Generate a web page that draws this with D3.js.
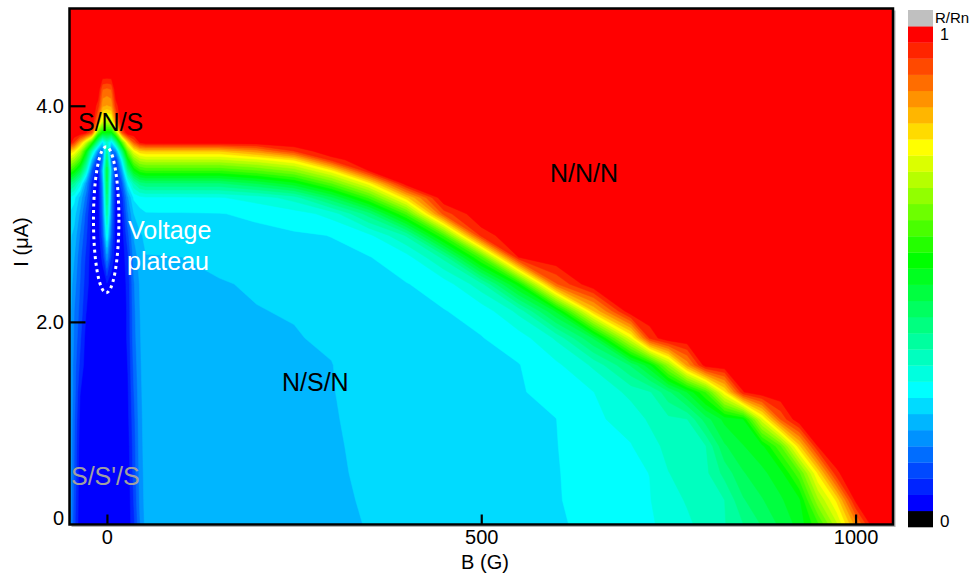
<!DOCTYPE html>
<html lang="en">
<head>
  <meta charset="UTF-8">
  <title>R/Rn map, B vs I</title>
  <script src="https://d3js.org/d3.v7.min.js"></script>
  <style>
    body { margin: 0; padding: 0; background: #fff; overflow: hidden; }
    text { font-family: "Liberation Sans", Arial, sans-serif; }
  </style>
</head>
<body>
  <svg id="chart"></svg>
  <script>
    // measurement grid: field B (G) for each column, current I (uA) for each row
    const fieldB = [-50, -44, -36, -28, -20, -12, -6, 0, 6, 12, 20, 28, 36, 44,
      52, 75, 100, 150, 200, 250, 300, 350, 400, 450, 500, 550, 600, 650, 700, 725, 750,
      775, 800, 825, 850, 875, 900, 925, 950, 975, 1000, 1025, 1050];
    const currentI = [0.125, 0.35, 0.6, 0.85, 1.1, 1.35, 1.6, 1.85, 2.1, 2.35, 2.6, 2.8, 3.0,
      3.15, 3.28, 3.4, 3.5, 3.58, 3.66, 3.75, 3.85, 4.0, 4.15, 4.3, 4.5, 4.9];

    // R/Rn, one array per B column, low I first
    const rnColumns = [
      [0.16, 0.165, 0.17, 0.17, 0.172, 0.175, 0.178, 0.18, 0.183, 0.19, 0.2, 0.208, 0.23, 0.262, 0.394, 0.565, 0.694, 0.8, 0.99, 1, 1, 1, 1, 1, 1, 1],
      [0.08, 0.09, 0.1, 0.105, 0.11, 0.12, 0.12, 0.13, 0.135, 0.15, 0.17, 0.19, 0.215, 0.245, 0.36, 0.53, 0.66, 0.77, 0.93, 1, 1, 1, 1, 1, 1, 1],
      [0.01, 0.01, 0.012, 0.018, 0.025, 0.035, 0.06, 0.075, 0.09, 0.1, 0.11, 0.13, 0.16, 0.19, 0.28, 0.45, 0.58, 0.68, 0.82, 1, 1, 1, 1, 1, 1, 1],
      [0.01, 0.01, 0.01, 0.01, 0.01, 0.01, 0.015, 0.02, 0.035, 0.05, 0.06, 0.075, 0.09, 0.12, 0.16, 0.3, 0.42, 0.52, 0.7, 0.97, 1, 1, 1, 1, 1, 1],
      [0.01, 0.01, 0.01, 0.01, 0.01, 0.01, 0.01, 0.01, 0.01, 0.01, 0.01, 0.015, 0.02, 0.03, 0.05, 0.1, 0.2, 0.32, 0.55, 0.9, 1, 1, 1, 1, 1, 1],
      [0.01, 0.01, 0.01, 0.01, 0.01, 0.01, 0.01, 0.01, 0.01, 0.01, 0.01, 0.01, 0.01, 0.01, 0.01, 0.02, 0.05, 0.15, 0.35, 0.6, 0.85, 0.95, 1, 1, 1, 1],
      [0.01, 0.01, 0.01, 0.01, 0.01, 0.01, 0.01, 0.01, 0.01, 0.015, 0.04, 0.08, 0.11, 0.12, 0.14, 0.18, 0.12, 0.1, 0.22, 0.5, 0.7, 0.84, 0.9, 1, 1, 1],
      [0.01, 0.01, 0.01, 0.01, 0.01, 0.01, 0.01, 0.01, 0.01, 0.03, 0.15, 0.26, 0.34, 0.39, 0.43, 0.45, 0.4, 0.35, 0.3, 0.5, 0.68, 0.83, 0.89, 1, 1, 1],
      [0.01, 0.01, 0.01, 0.01, 0.01, 0.01, 0.01, 0.01, 0.01, 0.012, 0.06, 0.1, 0.13, 0.14, 0.15, 0.18, 0.1, 0.1, 0.22, 0.5, 0.7, 0.84, 0.9, 1, 1, 1],
      [0.01, 0.01, 0.01, 0.01, 0.01, 0.01, 0.01, 0.01, 0.01, 0.01, 0.01, 0.01, 0.01, 0.02, 0.03, 0.04, 0.06, 0.15, 0.35, 0.62, 0.86, 0.95, 1, 1, 1, 1],
      [0.01, 0.01, 0.01, 0.01, 0.01, 0.01, 0.01, 0.01, 0.01, 0.01, 0.01, 0.015, 0.03, 0.05, 0.09, 0.16, 0.25, 0.38, 0.58, 0.9, 1, 1, 1, 1, 1, 1],
      [0.01, 0.01, 0.012, 0.018, 0.025, 0.03, 0.035, 0.04, 0.04, 0.045, 0.06, 0.09, 0.13, 0.16, 0.24, 0.38, 0.5, 0.62, 0.78, 1, 1, 1, 1, 1, 1, 1],
      [0.06, 0.07, 0.08, 0.085, 0.09, 0.1, 0.11, 0.12, 0.125, 0.13, 0.15, 0.17, 0.2, 0.24, 0.33, 0.5, 0.63, 0.74, 0.9, 1, 1, 1, 1, 1, 1, 1],
      [0.13, 0.14, 0.145, 0.15, 0.153, 0.156, 0.16, 0.163, 0.166, 0.17, 0.18, 0.195, 0.22, 0.255, 0.38, 0.55, 0.68, 0.79, 0.97, 1, 1, 1, 1, 1, 1, 1],
      [0.18, 0.182, 0.184, 0.185, 0.187, 0.189, 0.191, 0.193, 0.195, 0.197, 0.199, 0.207, 0.23, 0.262, 0.394, 0.565, 0.694, 0.8, 0.99, 1, 1, 1, 1, 1, 1, 1],
      [0.18, 0.182, 0.184, 0.186, 0.188, 0.19, 0.192, 0.194, 0.196, 0.198, 0.199, 0.211, 0.231, 0.262, 0.394, 0.565, 0.694, 0.8, 0.99, 1, 1, 1, 1, 1, 1, 1],
      [0.18, 0.182, 0.184, 0.186, 0.188, 0.19, 0.192, 0.194, 0.196, 0.198, 0.2, 0.215, 0.231, 0.262, 0.394, 0.565, 0.694, 0.8, 0.99, 1, 1, 1, 1, 1, 1, 1],
      [0.18, 0.182, 0.183, 0.185, 0.187, 0.189, 0.191, 0.193, 0.195, 0.198, 0.207, 0.22, 0.232, 0.264, 0.394, 0.565, 0.694, 0.8, 0.99, 1, 1, 1, 1, 1, 1, 1],
      [0.18, 0.182, 0.184, 0.187, 0.189, 0.192, 0.194, 0.196, 0.199, 0.203, 0.215, 0.225, 0.239, 0.281, 0.433, 0.596, 0.723, 0.85, 0.99, 1, 1, 1, 1, 1, 1, 1],
      [0.18, 0.182, 0.185, 0.188, 0.191, 0.193, 0.196, 0.198, 0.202, 0.211, 0.221, 0.229, 0.251, 0.316, 0.486, 0.643, 0.772, 0.932, 1, 1, 1, 1, 1, 1, 1, 1],
      [0.19, 0.191, 0.193, 0.194, 0.196, 0.198, 0.199, 0.205, 0.212, 0.22, 0.227, 0.234, 0.278, 0.426, 0.597, 0.755, 0.948, 1, 1, 1, 1, 1, 1, 1, 1, 1],
      [0.202, 0.205, 0.208, 0.211, 0.214, 0.217, 0.22, 0.223, 0.226, 0.229, 0.232, 0.258, 0.384, 0.574, 0.747, 0.97, 1, 1, 1, 1, 1, 1, 1, 1, 1, 1],
      [0.208, 0.21, 0.213, 0.216, 0.218, 0.221, 0.224, 0.226, 0.229, 0.232, 0.253, 0.337, 0.576, 0.789, 0.99, 1, 1, 1, 1, 1, 1, 1, 1, 1, 1, 1],
      [0.213, 0.215, 0.218, 0.22, 0.222, 0.225, 0.227, 0.229, 0.232, 0.247, 0.344, 0.572, 0.915, 1, 1, 1, 1, 1, 1, 1, 1, 1, 1, 1, 1, 1],
      [0.219, 0.221, 0.223, 0.224, 0.226, 0.228, 0.23, 0.232, 0.245, 0.322, 0.584, 0.946, 1, 1, 1, 1, 1, 1, 1, 1, 1, 1, 1, 1, 1, 1],
      [0.225, 0.226, 0.227, 0.228, 0.23, 0.231, 0.232, 0.249, 0.31, 0.517, 0.97, 1, 1, 1, 1, 1, 1, 1, 1, 1, 1, 1, 1, 1, 1, 1],
      [0.23, 0.231, 0.231, 0.232, 0.233, 0.242, 0.259, 0.305, 0.472, 0.896, 1, 1, 1, 1, 1, 1, 1, 1, 1, 1, 1, 1, 1, 1, 1, 1],
      [0.24, 0.245, 0.25, 0.255, 0.261, 0.266, 0.306, 0.437, 0.8, 1, 1, 1, 1, 1, 1, 1, 1, 1, 1, 1, 1, 1, 1, 1, 1, 1],
      [0.255, 0.258, 0.262, 0.265, 0.278, 0.311, 0.404, 0.729, 1, 1, 1, 1, 1, 1, 1, 1, 1, 1, 1, 1, 1, 1, 1, 1, 1, 1],
      [0.263, 0.265, 0.267, 0.284, 0.306, 0.329, 0.491, 0.94, 1, 1, 1, 1, 1, 1, 1, 1, 1, 1, 1, 1, 1, 1, 1, 1, 1, 1],
      [0.275, 0.287, 0.299, 0.312, 0.325, 0.391, 0.654, 1, 1, 1, 1, 1, 1, 1, 1, 1, 1, 1, 1, 1, 1, 1, 1, 1, 1, 1],
      [0.294, 0.303, 0.313, 0.323, 0.333, 0.467, 0.842, 1, 1, 1, 1, 1, 1, 1, 1, 1, 1, 1, 1, 1, 1, 1, 1, 1, 1, 1],
      [0.312, 0.318, 0.325, 0.332, 0.417, 0.569, 0.99, 1, 1, 1, 1, 1, 1, 1, 1, 1, 1, 1, 1, 1, 1, 1, 1, 1, 1, 1],
      [0.331, 0.333, 0.378, 0.428, 0.477, 0.759, 1, 1, 1, 1, 1, 1, 1, 1, 1, 1, 1, 1, 1, 1, 1, 1, 1, 1, 1, 1],
      [0.366, 0.396, 0.43, 0.465, 0.499, 0.965, 1, 1, 1, 1, 1, 1, 1, 1, 1, 1, 1, 1, 1, 1, 1, 1, 1, 1, 1, 1],
      [0.403, 0.43, 0.459, 0.488, 0.72, 1, 1, 1, 1, 1, 1, 1, 1, 1, 1, 1, 1, 1, 1, 1, 1, 1, 1, 1, 1, 1],
      [0.441, 0.462, 0.485, 0.596, 0.904, 1, 1, 1, 1, 1, 1, 1, 1, 1, 1, 1, 1, 1, 1, 1, 1, 1, 1, 1, 1, 1],
      [0.479, 0.492, 0.592, 0.79, 1, 1, 1, 1, 1, 1, 1, 1, 1, 1, 1, 1, 1, 1, 1, 1, 1, 1, 1, 1, 1, 1],
      [0.559, 0.66, 0.772, 0.97, 1, 1, 1, 1, 1, 1, 1, 1, 1, 1, 1, 1, 1, 1, 1, 1, 1, 1, 1, 1, 1, 1],
      [0.692, 0.775, 0.96, 1, 1, 1, 1, 1, 1, 1, 1, 1, 1, 1, 1, 1, 1, 1, 1, 1, 1, 1, 1, 1, 1, 1],
      [0.846, 0.975, 1, 1, 1, 1, 1, 1, 1, 1, 1, 1, 1, 1, 1, 1, 1, 1, 1, 1, 1, 1, 1, 1, 1, 1],
      [1, 1, 1, 1, 1, 1, 1, 1, 1, 1, 1, 1, 1, 1, 1, 1, 1, 1, 1, 1, 1, 1, 1, 1, 1, 1],
      [1, 1, 1, 1, 1, 1, 1, 1, 1, 1, 1, 1, 1, 1, 1, 1, 1, 1, 1, 1, 1, 1, 1, 1, 1, 1]
    ];

    // dotted "voltage plateau" outline, B and I extent
    const plateauB = [-18, 16];
    const plateauI = [2.27, 3.62];

    const levelCount = 30;
    const xTickValues = [0, 500, 1000];
    const yTickValues = [0.125, 2, 4];
    const yTickLabels = ["0", "2.0", "4.0"];

    const nx = fieldB.length, ny = currentI.length;
    if (rnColumns.length !== nx || rnColumns.some(c => c.length !== ny)) {
      throw new Error("grid size mismatch: " + rnColumns.map(c => c.length).join(","));
    }

    const width = 974, height = 573;
    const plot = { left: 69.5, right: 893, top: 8.5, bottom: 524.5 };

    const svg = d3.select("#chart").attr("width", width).attr("height", height);

    const x = d3.scaleLinear().domain([-50, 1050]).range([plot.left, plot.right]);
    const y = d3.scaleLinear().domain([0.125, 4.9]).range([plot.bottom, plot.top]);

    const levelColor = d3.scaleLinear()
      .domain([0, 7, 15, 22, 29])
      .range(["#0000ff", "#00ffff", "#00ff00", "#ffff00", "#ff0000"]);

    // row-major grid for d3.contours
    const values = new Array(nx * ny);
    rnColumns.forEach((col, i) => col.forEach((v, j) => { values[j * nx + i] = v; }));

    const thresholds = d3.range(levelCount).map(k => k / levelCount);
    const contours = d3.contours().size([nx, ny]).thresholds(thresholds)(values);

    // the grid is uneven, so map grid index -> data value piecewise
    const colToB = d3.scaleLinear().domain(d3.range(nx)).range(fieldB).clamp(true);
    const rowToI = d3.scaleLinear().domain(d3.range(ny)).range(currentI).clamp(true);
    const gridPath = d3.geoPath(d3.geoTransform({
      point(gx, gy) { this.stream.point(x(colToB(gx - 0.5)), y(rowToI(gy - 0.5))); }
    }));

    svg.append("clipPath").attr("id", "plot-clip")
      .append("rect")
      .attr("x", plot.left).attr("y", plot.top)
      .attr("width", plot.right - plot.left).attr("height", plot.bottom - plot.top);

    svg.append("g")
      .attr("clip-path", "url(#plot-clip)")
      .selectAll("path")
      .data(contours)
      .join("path")
      .attr("d", gridPath)
      .attr("fill", (d, k) => levelColor(k))
      .attr("stroke", (d, k) => levelColor(k))
      .attr("stroke-width", 0.5);

    // plateau outline
    svg.append("ellipse")
      .attr("cx", (x(plateauB[0]) + x(plateauB[1])) / 2)
      .attr("cy", (y(plateauI[0]) + y(plateauI[1])) / 2)
      .attr("rx", Math.abs(x(plateauB[1]) - x(plateauB[0])) / 2)
      .attr("ry", Math.abs(y(plateauI[1]) - y(plateauI[0])) / 2)
      .attr("fill", "none")
      .attr("stroke", "#fff")
      .attr("stroke-width", 3)
      .attr("stroke-dasharray", "3 3.6");

    // region labels
    const label = (txt, px, py, color) => svg.append("text")
      .attr("x", px).attr("y", py)
      .attr("font-size", 25)
      .attr("fill", color)
      .text(txt);
    label("S/N/S", 78, 131, "#000");
    label("N/N/N", 550, 182, "#000");
    label("N/S/N", 282, 391, "#000");
    label("Voltage", 128, 239, "#fff");
    label("plateau", 127, 270, "#fff");
    label("S/S'/S", 71, 485, "#a0a0a0");

    // frame with a faint shadow on the right and bottom
    svg.append("path")
      .attr("d", `M${plot.right + 1.8},${plot.top + 2}V${plot.bottom + 1.8}H${plot.left + 2}`)
      .attr("fill", "none")
      .attr("stroke", "#b4b4b4")
      .attr("stroke-width", 1.5);
    svg.append("rect")
      .attr("x", plot.left).attr("y", plot.top)
      .attr("width", plot.right - plot.left).attr("height", plot.bottom - plot.top)
      .attr("fill", "none")
      .attr("stroke", "#000")
      .attr("stroke-width", 2.5);

    // axes, ticks pointing inward
    const gx = svg.append("g")
      .attr("transform", `translate(0,${plot.bottom})`)
      .call(d3.axisBottom(x).tickValues(xTickValues).tickFormat(d3.format("d"))
        .tickSizeInner(-10).tickSizeOuter(0).tickPadding(5));
    const gy = svg.append("g")
      .attr("transform", `translate(${plot.left},0)`)
      .call(d3.axisLeft(y).tickValues(yTickValues).tickFormat((d, i) => yTickLabels[i])
        .tickSizeInner(-16).tickSizeOuter(0).tickPadding(5.5));

    [gx, gy].forEach(g => {
      g.select(".domain").remove();
      g.attr("font-size", 20).attr("font-family", '"Liberation Sans", Arial, sans-serif');
      g.selectAll("line").attr("stroke", "#000").attr("stroke-width", 2.2);
      g.selectAll("text").attr("fill", "#000");
    });
    // the "0" on the current axis sits just above the bottom edge, no tick line
    const firstY = gy.selectAll(".tick").filter(d => d === yTickValues[0]);
    firstY.select("line").remove();
    firstY.select("text").attr("y", -6.5);

    svg.append("text")
      .attr("x", 485).attr("y", 569)
      .attr("text-anchor", "middle")
      .attr("font-size", 20)
      .text("B (G)");
    svg.append("text")
      .attr("transform", "translate(28,242) rotate(-90)")
      .attr("text-anchor", "middle")
      .attr("font-size", 20)
      .text("I (\u03bcA)");

    // colour bar: black below 0, 30 levels, grey above 1
    const cbX = 908, cbW = 25;
    const cbY = d3.scaleLinear().domain([-1, levelCount + 1]).range([527, 10]);
    svg.append("g")
      .selectAll("rect")
      .data(d3.range(-1, levelCount + 1))
      .join("rect")
      .attr("x", cbX)
      .attr("width", cbW)
      .attr("y", k => cbY(k + 1))
      .attr("height", k => cbY(k) - cbY(k + 1) + 0.3)
      .attr("fill", k => k < 0 ? "#000" : k >= levelCount ? "#c0c0c0" : levelColor(k));

    svg.append("text").attr("x", 935).attr("y", 23).attr("font-size", 15).text("R/Rn");
    svg.append("text").attr("x", 940).attr("y", 40).attr("font-size", 16).text("1");
    svg.append("text").attr("x", 940).attr("y", 527).attr("font-size", 17).text("0");
  </script>
</body>
</html>
